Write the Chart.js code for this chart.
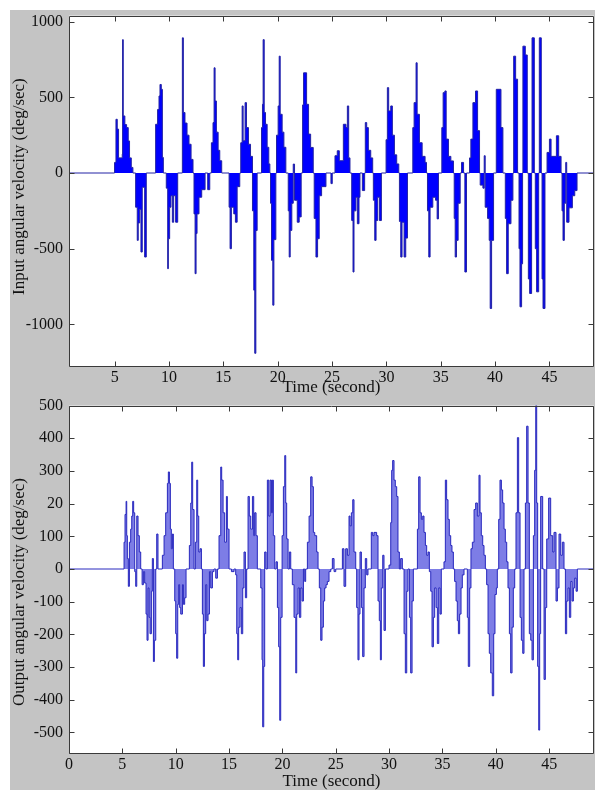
<!DOCTYPE html>
<html>
<head>
<meta charset="utf-8">
<script src="https://cdn.jsdelivr.net/npm/chart.js@4.4.0/dist/chart.umd.min.js"></script>
<style>
  html, body { margin: 0; padding: 0; background: #fff; }
  #page { position: relative; width: 595px; height: 790px; overflow: hidden; }
  #gray { position: absolute; left: 10px; top: 10px; width: 585px; height: 780px; background: #c4c4c4; }
  canvas { position: absolute; left: 0; }
  #topChart { top: 0; }
  #bottomChart { top: 390px; }
</style>
</head>
<body>
<div id="page">
  <div id="gray"></div>
  <canvas id="topChart" width="595" height="396"></canvas>
  <canvas id="bottomChart" width="595" height="400"></canvas>
</div>
<script>
// Input angular velocity: stair steps, each value holds until the next time
const inputTime = [
  0,
  4.99, 5.12, 5.24, 5.36, 5.70, 5.73, 5.79, 5.94, 6.10, 6.25, 6.37, 6.53, 6.68,
  6.93, 7.08, 7.17, 7.30, 7.42, 7.54, 7.76, 7.91,
  8.77, 8.95, 9.08, 9.17, 9.29, 9.39, 9.48,
  9.75, 9.88, 9.94, 10.06, 10.18, 10.31, 10.43, 10.61, 10.80,
  11.23, 11.32, 11.47, 11.66, 11.84, 12.03, 12.21,
  12.30, 12.40, 12.49, 12.58, 12.76, 13.01, 13.32, 13.56, 13.75,
  13.90, 14.05, 14.15, 14.24, 14.36, 14.52, 14.67, 14.85,
  15.53, 15.62, 15.74, 15.96, 16.11, 16.27, 16.51,
  16.60, 16.73, 16.82, 17.00, 17.13, 17.31, 17.50, 17.68, 17.80, 17.89, 17.99, 18.11,
  18.51, 18.60, 18.66, 18.76, 18.88, 19.03, 19.18, 19.28,
  19.34, 19.43, 19.55, 19.65, 19.83,
  19.89, 20.04, 20.14, 20.23, 20.41, 20.57, 20.75,
  20.97, 21.06, 21.15, 21.30, 21.43, 21.55, 21.80, 21.98, 22.16,
  22.29, 22.38, 22.66, 22.84, 23.03, 23.27,
  23.36, 23.52, 23.67, 23.82, 24.04, 24.44, 24.90, 25.02,
  25.27, 25.48, 25.67, 26.04, 26.28, 26.41, 26.53, 26.65,
  26.81, 26.93, 27.02, 27.20, 27.33, 27.48, 27.57, 27.79, 28.00,
  28.06, 28.19, 28.34, 28.56, 28.74,
  28.80, 28.93, 29.05, 29.20, 29.36, 29.54,
  29.97, 30.09, 30.21, 30.40, 30.55, 30.74, 30.95, 31.14,
  31.20, 31.32, 31.44, 31.63, 31.78, 31.94,
  32.43, 32.55, 32.73, 32.83, 33.04, 33.29, 33.56, 33.69,
  33.78, 33.90, 34.02, 34.27, 34.52, 34.67, 34.79,
  35.10, 35.22, 35.38, 35.50, 35.71, 35.93, 36.17,
  36.24, 36.33, 36.45, 36.60, 36.79, 36.91, 37.10, 37.22, 37.37,
  37.65, 37.77, 37.96, 38.20, 38.39, 38.57,
  38.63, 38.88, 39.00, 39.09, 39.31, 39.46, 39.55, 39.68, 39.86,
  40.11, 40.54, 40.72,
  40.94, 41.06, 41.21, 41.46, 41.64,
  41.71, 41.89, 42.07, 42.20, 42.29, 42.44, 42.53,
  42.56, 42.78, 42.96, 43.06, 43.18, 43.36,
  43.40, 43.61, 43.70, 43.82, 44.01,
  44.07, 44.25, 44.32, 44.41, 44.59,
  44.78, 45.00, 45.15, 45.64, 45.85, 46.07,
  46.16, 46.25, 46.37, 46.50, 46.59, 46.80, 47.11, 47.33, 47.54,
  50
];
const inputValue = [
  0,
  70, 355, 290, 100, 125, 881, 377, 320, 300, 212, 100, 37, 0,
  -226, -445, -330, -240, -522, -94, -555, 0,
  322, 420, 509, 585, 553, 103, 0,
  -100, -632, -434, -226, -150, -325, -150, -325, 0,
  893, 400, 330, 250, 190, 90, 0,
  -270, -665, -400, -270, -160, -110, 0, -110, 0,
  200, 333, 695, 476, 270, 150, 81, 0,
  -226, -500, -226, -270, -325, -90, 0,
  200, 443, 213, 465, 300, 190, 110, -250, -774, -1191, -380, 0,
  300, 454, 881, 400, 322, 170, 60, 0,
  -200, -577, -873, -440, 0,
  250, 443, 772, 388, 270, 170, 0,
  -250, -555, -379, -200, 59, -180, -325, -290, 0,
  450, 662, 454, 257, 169, 0,
  -300, -555, -434, -150, -90, 0, -70, 0,
  114, 147, 81, 322, 300, 443, 100, 0,
  -314, -654, -250, -160, -335, -160, 0, -116, 0,
  333, 300, 150, 100, 0,
  -180, -445, -314, -160, -314, 0,
  220, 564, 410, 443, 250, 120, 60, 0,
  -320, -555, -325, -555, -430, 0,
  300, 465, 728, 388, 200, 110, 70, 0,
  -250, -555, -226, -160, -180, -303, 0,
  300, 531, 542, 224, 110, 80, 0,
  -300, -555, -445, -200, 0, 70, 0, -654, 0,
  100, 224, 465, 542, 280, 0,
  -80, -100, 114, -226, -300, -445, -895, -445, 0,
  553, 300, 0,
  -300, -665, -335, -180, 0,
  772, 620, 0, -500, -884, -600, 0,
  838, 780, 0, -700, -796, 0,
  893, 0, -500, -785, 0,
  893, 0, -700, -895, 0,
  136, 224, 110, 246, 110, 0,
  -250, -445, -200, 70, -325, -230, -150, -116, 0,
  0
];

// Output angular velocity
const outputTime = [
  0,
  5.16, 5.25, 5.35, 5.41, 5.47, 5.56, 5.66, 5.78, 5.88, 5.97, 6.06, 6.16, 6.25, 6.35, 6.47, 6.59, 6.72,
  6.85, 6.97, 7.09, 7.22, 7.31, 7.41, 7.50, 7.59, 7.72, 7.81, 7.91, 8.00, 8.13, 8.22, 8.34,
  8.75, 8.91, 9.06, 9.22, 9.31, 9.41, 9.50, 9.59, 9.69, 9.78,
  9.91, 10.00, 10.09, 10.19, 10.28, 10.37, 10.47, 10.63, 10.72, 10.84, 10.97,
  11.28, 11.41, 11.50, 11.59, 11.72, 11.84, 11.97, 12.06, 12.16, 12.28, 12.41,
  12.50, 12.59, 12.69, 12.81, 12.91, 13.03, 13.16, 13.28, 13.44, 13.59, 13.75, 13.91,
  14.06, 14.22, 14.31, 14.44, 14.59, 14.75, 14.84, 15.00,
  15.22, 15.47, 15.62, 15.72, 15.81, 15.90, 16.03, 16.15, 16.28, 16.40, 16.53, 16.65,
  16.78, 16.90, 17.03, 17.19, 17.31, 17.40, 17.53, 17.65,
  17.97, 18.09, 18.15, 18.25, 18.34, 18.47,
  18.59, 18.72, 18.84, 18.97, 19.06, 19.15, 19.28,
  19.40, 19.53, 19.65, 19.75, 19.84,
  19.97, 20.09, 20.22, 20.31, 20.40, 20.53, 20.65, 20.78,
  20.93, 21.09, 21.25, 21.34, 21.47, 21.59, 21.72, 21.84, 21.97, 22.09, 22.18,
  22.34, 22.50, 22.65, 22.78, 22.90, 23.03, 23.21, 23.34,
  23.46, 23.59, 23.71, 23.84, 23.96, 24.09, 24.21, 24.37, 24.53, 24.68, 24.84, 25.00,
  25.62, 25.77, 25.93, 26.09, 26.24, 26.34, 26.46, 26.59, 26.71, 26.87,
  26.96, 27.08, 27.18, 27.27, 27.40, 27.52, 27.65, 27.77, 27.90, 28.02,
  28.33, 28.46, 28.58, 28.83, 28.96, 29.08, 29.18, 29.27, 29.40, 29.52, 29.65,
  29.99, 30.15, 30.24, 30.33, 30.46, 30.58, 30.71, 30.83, 30.96, 31.08, 31.24,
  31.40, 31.52, 31.65, 31.77, 31.90, 32.02, 32.15, 32.27,
  32.65, 32.77, 32.90, 33.02, 33.15, 33.27, 33.40, 33.52, 33.65,
  33.77, 33.90, 34.02, 34.15, 34.27, 34.40, 34.52, 34.65, 34.77, 34.89,
  35.14, 35.27, 35.39, 35.52, 35.64, 35.77, 35.89, 36.02,
  36.14, 36.27, 36.39, 36.49, 36.61, 36.74, 36.86, 37.02,
  37.33, 37.42, 37.55, 37.67, 37.80, 37.96, 38.11, 38.27, 38.42, 38.52, 38.64, 38.77, 38.89, 39.02,
  39.14, 39.27, 39.39, 39.52, 39.67, 39.80, 39.92, 40.05, 40.14,
  40.27, 40.39, 40.52, 40.64, 40.77, 40.89, 41.02,
  41.14, 41.27, 41.39, 41.52, 41.64, 41.77,
  41.89, 42.02, 42.14, 42.27, 42.39, 42.52, 42.64,
  42.77, 42.89, 43.02, 43.14, 43.27, 43.39,
  43.52, 43.64, 43.74, 43.83, 43.92, 44.02, 44.11,
  44.20, 44.39, 44.52, 44.64, 44.77, 44.95, 45.14, 45.33, 45.45,
  45.64, 45.77, 45.92, 46.08, 46.23, 46.39,
  46.52, 46.64, 46.77, 46.89, 47.02, 47.14, 47.27, 47.39, 47.52, 47.64,
  50
];
const outputValue = [
  0,
  82, 167, 207, 102, 32, -53, 82, 122, 162, 207, 172, -8, -53, 162, 102, 52, 0,
  -48, -8, -43, -138, -218, -58, -148, -198, -68, 32, -283, -218, 0, 107, 0,
  42, 102, 172, 262, 297, 262, 122, 62, 107, 0,
  -98, -198, -273, -108, -48, -118, -138, -48, -108, -88, 0,
  72, 202, 327, 182, 0, 82, 272, 162, 52, 62, 0,
  -138, -298, -198, -48, -158, -138, -8, -58, -8, 0, -28, 0,
  102, 312, 272, 172, 82, 222, 122, 0,
  -8, 0, -18, -198, -278, -178, -118, -198, -58, 52, -88, 0,
  222, 162, 122, 222, 102, 172, 102, 0,
  -58, -278, -483, -298, 52, 0,
  272, 162, 272, 172, 272, 102, 0,
  22, -118, -238, -463, -148,
  102, 252, 347, 202, 92, 0, 52, 0,
  -48, -148, -318, -138, -58, -148, -58, -98, 0, -38, 0,
  82, 162, 282, 252, 112, 102, 52, 0,
  -58, -218, -178, -98, -58, -48, -38, -8, 0, 32, -8, 0,
  62, -53, 62, 42, 162, 132, 172, 212, 52, 0,
  -118, -278, -138, 52, -118, -268, -58, 32, -18, 0,
  112, 102, 112, 102, -98, -158, -278, -58, 42, -188, 0,
  12, 142, 302, 332, 272, 252, 222, 52, 0, 32, 0,
  -198, -318, -68, 0, -148, -318, -98, 0,
  122, 282, 172, 152, 162, 112, 72, 42, 52,
  -8, -68, -238, -148, -58, -118, -228, -58, -138, 0,
  22, 272, 212, 152, 102, 72, 52, 0,
  -38, -98, -158, -198, -138, -58, -18, 0,
  -148, -298, -58, 62, 82, 182, 202, 162, 287, 172, 102, 72, 42, 0,
  -48, -198, -258, -318, -388, -198, -78, -58, 0,
  152, 272, 242, 202, 122, 82, 22,
  -58, -198, -318, -178, -58, 0,
  172, 402, 172, -148, -218, -258, 0,
  202, 437, 202, -198, -218, -278,
  102, 302, 500, 202, -298, -493, -198,
  222, 0, -338, -118, 92, 217, 102, 52, 112,
  -98, -58, 107, 42, 82, 0,
  -198, -98, -58, -148, -38, -98, -58, -28, -68, 0,
  0
];

// Tick positions and labels
const topXTicks = [5, 10, 15, 20, 25, 30, 35, 40, 45];
const topYTicks = [1000, 500, 0, -500, -1000];
const bottomXTicks = [0, 5, 10, 15, 20, 25, 30, 35, 40, 45];
const bottomYTicks = [500, 400, 300, 200, 100, 0, -100, -200, -300, -400, -500];
const bottomYLabels = ['500', '400', '300', '20', '100', '0', '-100', '-200', '-300', '-400', '-500'];

const serif = 'Liberation Serif';
const tickFont = { family: serif, size: 16 };
const titleFont = { family: serif, size: 17, lineHeight: 1 };

// white plot area, box and inward ticks like the original plot
const matlabBox = {
  id: 'matlabBox',
  beforeDraw(chart) {
    const { ctx, chartArea: a } = chart;
    ctx.save();
    ctx.fillStyle = '#fff';
    ctx.fillRect(a.left, a.top, a.right - a.left, a.bottom - a.top);
    ctx.restore();
  },
  afterDraw(chart) {
    const { ctx, chartArea: a, scales } = chart;
    const len = 5;
    const l = Math.round(a.left) + 0.5, r = Math.round(a.right) - 0.5;
    const t = Math.round(a.top) + 0.5, b = Math.round(a.bottom) + 0.5;
    ctx.save();
    ctx.strokeStyle = '#3a3a3a';
    ctx.lineWidth = 1;
    ctx.beginPath();
    ctx.rect(l, t, r - l, b - t);
    scales.x.ticks.forEach(tk => {
      const px = Math.round(scales.x.getPixelForValue(tk.value)) + 0.5;
      ctx.moveTo(px, b); ctx.lineTo(px, b - len);
      ctx.moveTo(px, t); ctx.lineTo(px, t + len);
    });
    scales.y.ticks.forEach(tk => {
      const py = Math.round(scales.y.getPixelForValue(tk.value)) + 0.5;
      ctx.moveTo(l, py); ctx.lineTo(l + len, py);
      ctx.moveTo(r, py); ctx.lineTo(r - len, py);
    });
    ctx.stroke();
    ctx.restore();
  }
};

function axisOptions(cfg) {
  return {
    x: {
      type: 'linear',
      min: cfg.xMin,
      max: cfg.xMax,
      grid: { display: false, drawTicks: false },
      border: { display: false },
      afterBuildTicks: s => { s.ticks = cfg.xTicks.map(v => ({ value: v })); },
      afterFit: s => { s.height = cfg.xHeight; },
      ticks: { font: tickFont, color: '#111', padding: 2, maxRotation: 0, autoSkip: false,
               callback: v => String(v) },
      title: { display: true, text: 'Time (second)', font: titleFont, color: '#111',
               padding: { top: 0, bottom: 0 } }
    },
    y: {
      type: 'linear',
      min: cfg.yMin,
      max: cfg.yMax,
      grid: { display: false, drawTicks: false },
      border: { display: false },
      afterBuildTicks: s => { s.ticks = cfg.yTicks.map(v => ({ value: v })); },
      afterFit: s => { s.width = 69; },
      ticks: { font: tickFont, color: '#111', padding: 6, autoSkip: false,
               callback: cfg.yLabel },
      title: { display: true, text: cfg.yTitle, font: titleFont, color: '#111',
               padding: { top: 11, bottom: 0 } }
    }
  };
}

new Chart(document.getElementById('topChart'), {
  type: 'line',
  data: {
    datasets: [{
      data: inputTime.map((t, i) => ({ x: t, y: inputValue[i] })),
      stepped: true,
      fill: 'origin',
      backgroundColor: '#0000ff',
      borderColor: 'rgb(35,35,165)',
      borderWidth: 1,
      pointRadius: 0
    }]
  },
  options: {
    responsive: false,
    animation: false,
    devicePixelRatio: 1,
    events: [],
    layout: { padding: { top: 14, right: 1, left: 0, bottom: 0 } },
    plugins: { legend: { display: false }, tooltip: { enabled: false } },
    scales: axisOptions({
      xMin: 0.8, xMax: 49.1, yMin: -1275, yMax: 1040,
      xTicks: topXTicks, yTicks: topYTicks, xHeight: 30,
      yLabel: v => String(v),
      // leading spaces lift the label a little, as in the original
      yTitle: '\u00a0\u00a0Input angular velocity (deg/sec)'
    })
  },
  plugins: [matlabBox]
});

new Chart(document.getElementById('bottomChart'), {
  type: 'line',
  data: {
    datasets: [{
      data: outputTime.map((t, i) => ({ x: t, y: outputValue[i] })),
      stepped: true,
      fill: 'origin',
      backgroundColor: 'rgb(125,125,230)',
      borderColor: 'rgb(40,40,190)',
      borderWidth: 1,
      pointRadius: 0
    }]
  },
  options: {
    responsive: false,
    animation: false,
    devicePixelRatio: 1,
    events: [],
    layout: { padding: { top: 13, right: 1, left: 0, bottom: 0 } },
    plugins: { legend: { display: false }, tooltip: { enabled: false } },
    scales: axisOptions({
      xMin: 0, xMax: 49.2, yMin: -563, yMax: 500,
      xTicks: bottomXTicks, yTicks: bottomYTicks, xHeight: 37,
      yLabel: v => bottomYLabels[bottomYTicks.indexOf(v)],
      // trailing spaces push the label down, as in the original
      yTitle: 'Output angular velocity (deg/sec)\u00a0\u00a0\u00a0\u00a0\u00a0\u00a0'
    })
  },
  plugins: [matlabBox]
});
</script>
</body>
</html>
